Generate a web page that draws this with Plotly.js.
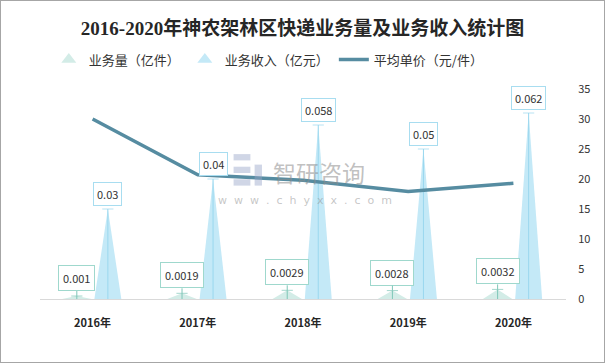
<!DOCTYPE html>
<html>
<head>
<meta charset="utf-8">
<script src="https://cdn.plot.ly/plotly-3.0.1.min.js"></script>
<style>
html,body{margin:0;padding:0;background:#fff;}
#chart{width:603px;height:361px;border:1px solid #a6a6a6;}
</style>
</head>
<body>
<div id="chart"></div>
<script>
// ---- data ----
var years = ['2016年', '2017年', '2018年', '2019年', '2020年'];
var volume = [0.001, 0.0019, 0.0029, 0.0028, 0.0032];     // 业务量（亿件）
var revenue = [0.03, 0.04, 0.058, 0.05, 0.062];           // 业务收入（亿元）
var unitPrice = [30, 20.7, 19.8, 17.9, 19.3];              // 平均单价（元/件）
var volumeLabels = ['0.001', '0.0019', '0.0029', '0.0028', '0.0032'];
var revenueLabels = ['0.03', '0.04', '0.058', '0.05', '0.062'];
var seriesNames = ['业务量（亿件）', '业务收入（亿元）', '平均单价（元/件）'];

// ---- style ----
var FONT = 'Noto Sans CJK SC, Microsoft YaHei, sans-serif';
var volFill = '#d3ece7', volLine = '#7fc6b8', volBorder = '#9fd8cd';
var revFill = '#c4e9f7', revLine = '#9ad7ee', revBorder = '#a8ddf0';
var lineColor = '#568ca1';
var offV = -0.15, offR = 0.145, halfV = 0.14, halfR = 0.128;

var idx = years.map(function (_, i) { return i; });
var traces = [];
var annotations = [];

function spike(i, off, half, v, fill) {
  return {
    type: 'scatter', mode: 'lines', x: [i + off - half, i + off, i + off + half, i + off - half],
    y: [0, v, 0, 0], fill: 'toself', fillcolor: fill, line: {width: 0, color: fill},
    yaxis: 'y', showlegend: false, hoverinfo: 'skip'
  };
}
function stem(i, off, v, color) {
  return {
    type: 'scatter', mode: 'lines+markers', x: [i + off, i + off], y: [0, v],
    line: {color: color, width: 1}, marker: {symbol: 'line-ew-open', size: [0, 8], color: color, line: {color: color, width: 1}},
    yaxis: 'y', showlegend: false, hoverinfo: 'skip'
  };
}

idx.forEach(function (i) {
  traces.push(spike(i, offV, halfV, volume[i], volFill));
  traces.push(spike(i, offR, halfR, revenue[i], revFill));
  traces.push(stem(i, offV, volume[i], volLine));
  traces.push(stem(i, offR, revenue[i], revLine));
  annotations.push({
    x: i + offR, y: revenue[i], xref: 'x', yref: 'y', text: revenueLabels[i], showarrow: false,
    yanchor: 'bottom', yshift: 3, bordercolor: revBorder, borderwidth: 1, borderpad: 3, bgcolor: '#fff',
    font: {family: FONT, size: 11, color: '#333'}
  });
  annotations.push({
    x: i + offV, y: volume[i], xref: 'x', yref: 'y', text: volumeLabels[i], showarrow: true,
    ax: 0, ay: -5, arrowhead: 0, arrowwidth: 1, arrowcolor: volLine, yanchor: 'bottom',
    bordercolor: volBorder, borderwidth: 1, borderpad: 4, bgcolor: '#fff',
    font: {family: FONT, size: 11, color: '#333'}
  });
});

// legend entries
traces.push({type: 'scatter', mode: 'markers', x: [null], y: [null], name: seriesNames[0],
  marker: {symbol: 'triangle-up', size: 13, color: volFill}, yaxis: 'y'});
traces.push({type: 'scatter', mode: 'markers', x: [null], y: [null], name: seriesNames[1],
  marker: {symbol: 'triangle-up', size: 13, color: revFill}, yaxis: 'y'});
traces.push({type: 'scatter', mode: 'lines', x: idx, y: unitPrice, name: seriesNames[2],
  line: {color: lineColor, width: 3.5}, yaxis: 'y2', hoverinfo: 'y'});

// watermark
annotations.push({xref: 'paper', yref: 'paper', x: 0.531, y: 0.605, text: '智研咨询', showarrow: false,
  font: {family: FONT, size: 23, color: 'rgba(140,140,140,0.55)'}});
annotations.push({xref: 'paper', yref: 'paper', x: 0.504, y: 0.47, text: 'w  w  w  .  c  h  y  x  x  .  c  o  m', showarrow: false,
  font: {family: 'DejaVu Sans, sans-serif', size: 11, color: 'rgba(150,150,150,0.55)'}});
var logoC = 'rgba(150,165,200,0.45)';
var shapes = [
  {type: 'rect', xref: 'paper', yref: 'paper', x0: 0.368, x1: 0.400, y0: 0.66, y1: 0.69, fillcolor: logoC, line: {width: 0}},
  {type: 'rect', xref: 'paper', yref: 'paper', x0: 0.368, x1: 0.400, y0: 0.60, y1: 0.63, fillcolor: logoC, line: {width: 0}},
  {type: 'rect', xref: 'paper', yref: 'paper', x0: 0.368, x1: 0.400, y0: 0.54, y1: 0.57, fillcolor: logoC, line: {width: 0}},
  {type: 'rect', xref: 'paper', yref: 'paper', x0: 0.408, x1: 0.422, y0: 0.54, y1: 0.64, fillcolor: logoC, line: {width: 0}}
];

var layout = {
  width: 603, height: 361,
  margin: {l: 39, r: 38, t: 88, b: 63},
  paper_bgcolor: '#fff', plot_bgcolor: '#fff',
  title: {text: '<b>2016-2020年神农架林区快递业务量及业务收入统计图</b>',
    font: {family: 'Liberation Serif, Noto Sans CJK SC, serif', size: 19, color: '#262626'},
    x: 0.5, xanchor: 'center', y: 0.925, yanchor: 'middle'},
  showlegend: true,
  legend: {orientation: 'h', x: 0.435, xanchor: 'center', y: 1.14, yanchor: 'middle',
    font: {family: FONT, size: 13, color: '#333'}, itemwidth: 30, tracegroupgap: 0},
  xaxis: {range: [-0.5, 4.5], tickvals: idx, ticktext: years, showgrid: false, zeroline: false,
    showline: true, linecolor: '#d9d9d9', linewidth: 1, ticks: 'outside', ticklen: 14, tickcolor: 'rgba(0,0,0,0)',
    tickfont: {family: FONT, size: 11, color: '#262626', weight: 'bold'}, fixedrange: true},
  yaxis: {range: [0, 0.07], visible: false, showgrid: false, zeroline: false},
  yaxis2: {range: [0, 35], overlaying: 'y', side: 'right', dtick: 5, showgrid: false, zeroline: false,
    showline: false, ticks: 'outside', ticklen: 9, tickcolor: 'rgba(0,0,0,0)',
    tickfont: {family: FONT, size: 11, color: '#333'}},
  shapes: shapes,
  annotations: annotations
};

Plotly.newPlot('chart', traces, layout, {displayModeBar: false, staticPlot: true});
</script>
</body>
</html>
